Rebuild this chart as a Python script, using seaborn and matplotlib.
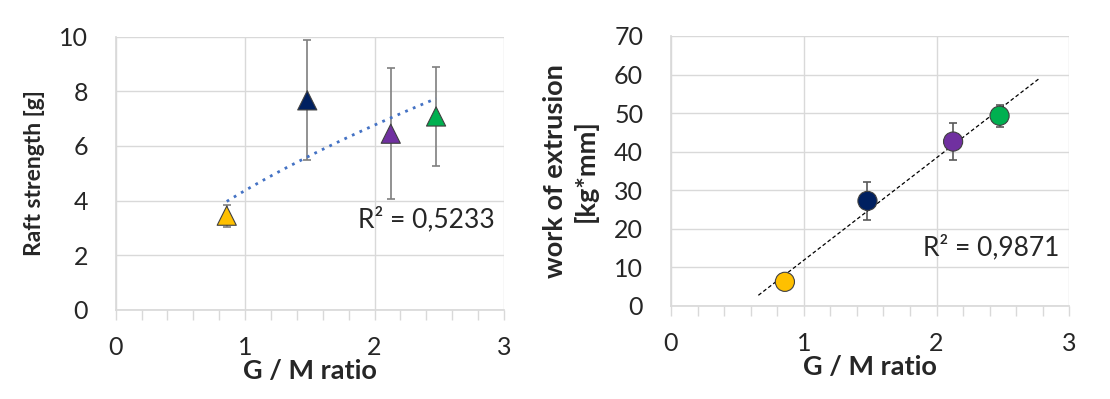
import numpy as np
import pandas as pd
import matplotlib
matplotlib.use("Agg")
import matplotlib.pyplot as plt
from matplotlib.ticker import MultipleLocator
import seaborn as sns

# values
samples = ["A", "B", "C", "D"]
colors = ["#FFC000", "#002060", "#7030A0", "#00B050"]
gm_ratio = [0.858, 1.48, 2.125, 2.475]

raft_strength = [3.45, 7.67, 6.45, 7.08]
raft_err = [0.40, 2.20, 2.40, 1.80]
raft_r2 = "R² = 0,5233"

work_extrusion = [6.2, 27.2, 42.6, 49.3]
work_err = [1.0, 4.9, 4.9, 2.8]
work_r2 = "R² = 0,9871"

sns.set_theme(style="white")
plt.rcParams["font.family"] = ["Lato", "DejaVu Sans"]

df = pd.DataFrame({"sample": samples, "gm": gm_ratio,
                   "raft": raft_strength, "raft_err": raft_err,
                   "work": work_extrusion, "work_err": work_err})
palette = dict(zip(samples, colors))

fig = plt.figure(figsize=(11.1, 3.99), dpi=100)
ax1 = fig.add_axes([0.1042, 0.2231, 0.3499, 0.685])
ax2 = fig.add_axes([0.6045, 0.2338, 0.3588, 0.676])

grid_c = "#D9D9D9"
tick_fs = 18
xlab_fs = 19.5


def style_axis(ax, ymax, ystep):
    ax.set_xlim(0, 3)
    ax.set_ylim(0, ymax)
    ax.xaxis.set_major_locator(MultipleLocator(1))
    ax.xaxis.set_minor_locator(MultipleLocator(0.2))
    ax.yaxis.set_major_locator(MultipleLocator(ystep))
    ax.grid(True, which="major", color=grid_c, linewidth=1.0)
    ax.set_axisbelow(True)
    for s in ["top", "right"]:
        ax.spines[s].set_visible(False)
    ax.spines["left"].set_color(grid_c)
    ax.spines["bottom"].set_color(grid_c)
    ax.tick_params(axis="x", which="both", direction="out", length=7,
                   color=grid_c, width=1, pad=12, labelsize=tick_fs, bottom=True)
    ax.tick_params(axis="y", length=0, pad=20, labelsize=tick_fs)


# left panel: raft strength, power trendline
style_axis(ax1, 10, 2)
ax1.errorbar(df["gm"], df["raft"], yerr=df["raft_err"], fmt="none",
             ecolor="#7F7F7F", elinewidth=1.2, capsize=3, capthick=1.2, zorder=2)
lx = np.log(df["gm"])
ly = np.log(df["raft"])
b, a = np.polyfit(lx, ly, 1)
xs = np.linspace(df["gm"].min(), df["gm"].max(), 100)
sns.lineplot(x=xs, y=np.exp(a) * xs ** b, ax=ax1, color="#4472C4",
             linestyle=(0, (1, 2)), linewidth=2, zorder=3)
sns.scatterplot(data=df, x="gm", y="raft", hue="sample", palette=palette,
                marker="^", s=190, edgecolor="#404040", linewidth=0.8,
                legend=False, ax=ax1, zorder=4)
ax1.text(1.87, 3.3, raft_r2, fontsize=19, va="center", ha="left")
ax1.set_xlabel("G / M ratio", fontsize=xlab_fs, fontweight="bold", labelpad=0)
ax1.set_ylabel("Raft strength [g]", fontsize=16.5, fontweight="bold",
               labelpad=10)

# right panel: work of extrusion, linear trendline
style_axis(ax2, 70, 10)
ax2.errorbar(df["gm"], df["work"], yerr=df["work_err"], fmt="none",
             ecolor="#595959", elinewidth=1.2, capsize=3, capthick=1.2, zorder=2)
m, c = np.polyfit(df["gm"], df["work"], 1)
xs2 = np.linspace(df["gm"].min() - 0.2, df["gm"].max() + 0.3, 50)
sns.lineplot(x=xs2, y=m * xs2 + c, ax=ax2, color="black",
             linestyle=(0, (3, 2)), linewidth=0.9, zorder=3)
sns.scatterplot(data=df, x="gm", y="work", hue="sample", palette=palette,
                marker="o", s=190, edgecolor="#404040", linewidth=0.8,
                legend=False, ax=ax2, zorder=4)
ax2.text(1.9, 15.2, work_r2, fontsize=19, va="center", ha="left")
ax2.set_xlabel("G / M ratio", fontsize=xlab_fs, fontweight="bold", labelpad=0)
ax2.set_ylabel("work of extrusion\n[kg*mm]", fontsize=19.5, fontweight="bold",
               labelpad=12, linespacing=1.25)

fig.savefig("out.png", dpi=100)
